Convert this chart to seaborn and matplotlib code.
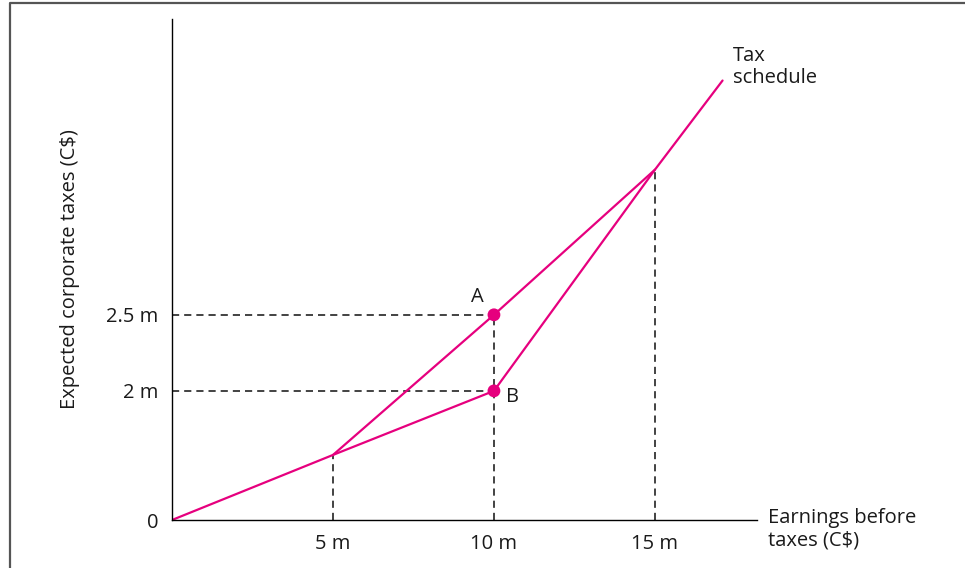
import numpy as np
import pandas as pd
import matplotlib
matplotlib.use("Agg")
import matplotlib.pyplot as plt
from matplotlib.lines import Line2D
import seaborn as sns

# dados (milhões de C$)
schedule_x = [0, 5, 10, 15, 17.1]
schedule_y = [0, 1, 2, 4, 4.84]
chord_x = [5, 10, 15]
chord_y = [1, 2.5, 4]
point_names = ["A", "B"]
point_x = [10, 10]
point_y = [2.5, 2]
xtick_vals = [5, 10, 15]
xtick_labels = ["5 m", "10 m", "15 m"]
ytick_vals = [0, 2, 2.5]
ytick_labels = ["0", "2 m", "2.5 m"]

MAGENTA = "#E6007E"
DASH = "#222222"

sns.set_style("white")
plt.rcParams["font.family"] = ["Open Sans", "DejaVu Sans"]
plt.rcParams["font.size"] = 14.5
plt.rcParams["text.color"] = "#1a1a1a"
plt.rcParams["xtick.color"] = "#1a1a1a"
plt.rcParams["ytick.color"] = "#1a1a1a"
plt.rcParams["axes.labelcolor"] = "#1a1a1a"

lines = pd.DataFrame({
    "earnings": schedule_x + chord_x,
    "tax": schedule_y + chord_y,
    "path": ["schedule"] * len(schedule_x) + ["chord"] * len(chord_x),
})
points = pd.DataFrame({"earnings": point_x, "tax": point_y, "name": point_names})

fig = plt.figure(figsize=(9.65, 5.68), dpi=100)
ax = fig.add_axes([172 / 965, 48 / 568, 585 / 965, 501 / 568])

# o gráfico original não está em escala no eixo y: escala por partes
knots_val = [-1, 0, 1, 2, 2.5, 4, 6]
knots_h = [-65, 0, 65, 129, 205, 350, 562]
ax.set_yscale("function", functions=(lambda v: np.interp(v, knots_val, knots_h),
                                     lambda h: np.interp(h, knots_h, knots_val)))

# linhas de referência tracejadas
ax.vlines(chord_x, 0, chord_y, colors=DASH, lw=1.2, linestyles=(0, (4.3, 3.0)))
ax.hlines(point_y, 0, point_x, colors=DASH, lw=1.2, linestyles=(0, (4.3, 3.0)))

sns.lineplot(data=lines, x="earnings", y="tax", units="path", estimator=None,
             sort=False, color=MAGENTA, lw=1.6, ax=ax)
sns.scatterplot(data=points, x="earnings", y="tax", color=MAGENTA, s=85,
                edgecolor="none", ax=ax, zorder=5)

ax.set_xlim(0, 18.17)
ax.set_ylim(0, 5.42)

ax.set_xticks(xtick_vals, xtick_labels)
ax.set_yticks(ytick_vals, ytick_labels)
ax.tick_params(axis="x", length=0, pad=10)
ax.tick_params(axis="y", length=0, pad=10)

for s in ["top", "right"]:
    ax.spines[s].set_visible(False)
for s in ["left", "bottom"]:
    ax.spines[s].set_color("black")
    ax.spines[s].set_linewidth(1.0)

ax.set_xlabel("")
ax.set_ylabel("Expected corporate taxes (C$)", va="center")
ax.yaxis.set_label_coords(-0.174, 0.5)

# rótulos
ax.annotate("A", (point_x[0], point_y[0]), xytext=(-12, 13), textcoords="offset points",
            ha="center", va="center")
ax.annotate("B", (point_x[1], point_y[1]), xytext=(13.5, -4.3), textcoords="offset points",
            ha="center", va="center")
ax.annotate("Tax\nschedule", (schedule_x[-1], schedule_y[-1]), xytext=(7.5, 9.5),
            textcoords="offset points", ha="left", va="center", linespacing=1.15)
ax.annotate("Earnings before\ntaxes (C$)", (1, 0), xycoords="axes fraction",
            xytext=(8, -6.5), textcoords="offset points", ha="left", va="center",
            linespacing=1.15, annotation_clip=False)

# moldura
fig.add_artist(Line2D([9.5 / 965, 9.5 / 965, 1], [0, 1 - 3 / 568, 1 - 3 / 568],
                      transform=fig.transFigure, color="#555555", lw=1.6))

fig.savefig("out.png", dpi=100)
